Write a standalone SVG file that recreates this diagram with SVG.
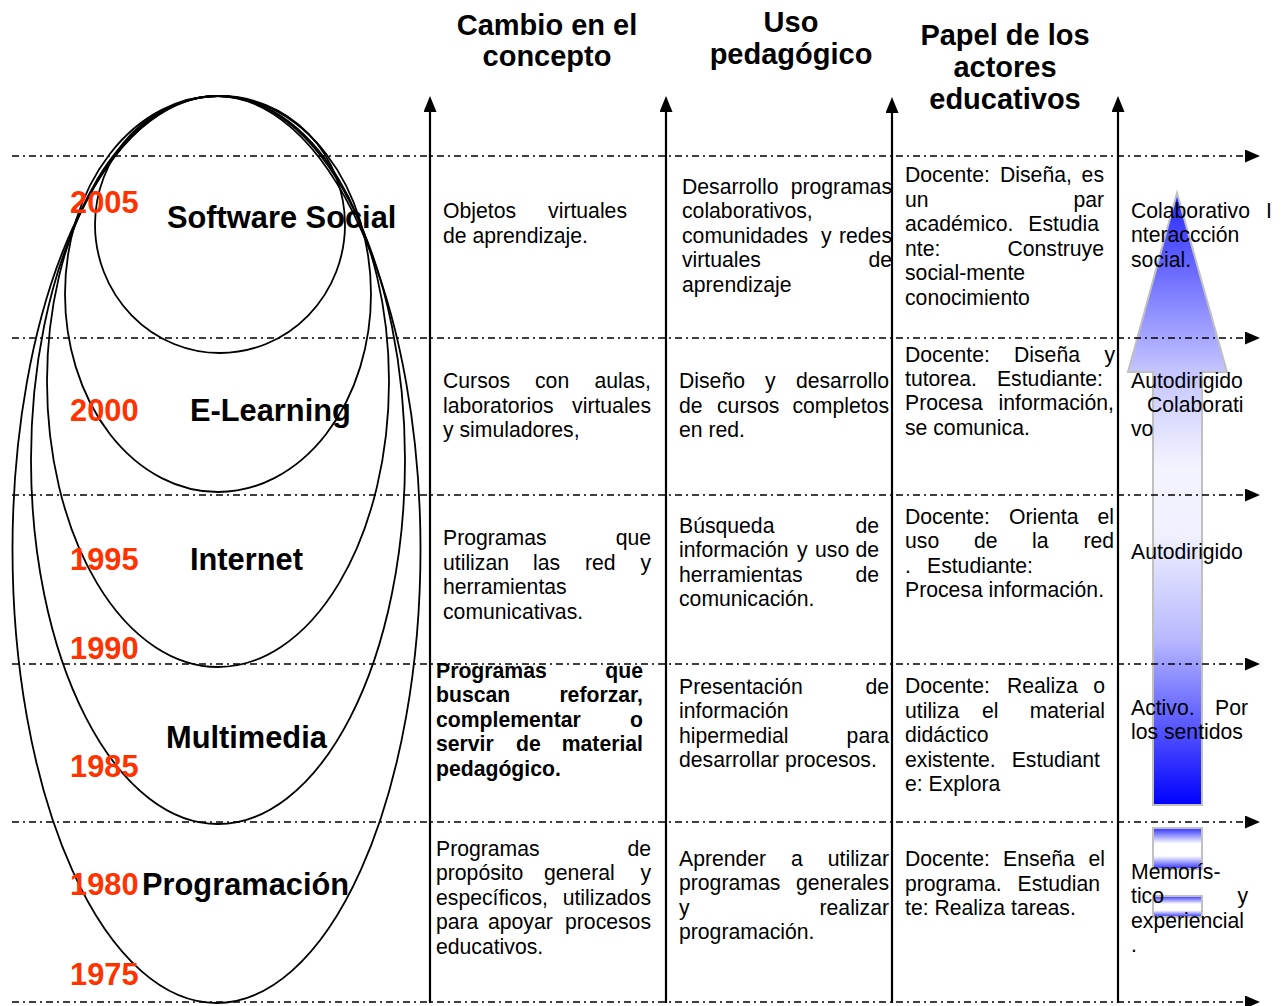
<svg xmlns="http://www.w3.org/2000/svg" width="1283" height="1006" viewBox="0 0 1283 1006">
<style>
text{font-family:"Liberation Sans",Arial,sans-serif;fill:#000}
.t{font-size:21.2px}
.tb{font-size:21.2px;font-weight:bold}
.e{text-anchor:end}
.h{font-size:29px;font-weight:bold;text-anchor:middle}
.yr{font-size:30.8px;font-weight:bold;fill:#ff3300}
.lb{font-size:30.8px;font-weight:bold}
.ell{fill:none;stroke:#000;stroke-width:1.8}
.dash{fill:none;stroke:#000;stroke-width:1.7;stroke-dasharray:7 4 2 4}
.axis{fill:none;stroke:#000;stroke-width:2.2}
</style>
<defs>
<marker id="ah" viewBox="0 0 15 13" refX="0" refY="6.5" markerWidth="15" markerHeight="13" markerUnits="userSpaceOnUse" orient="auto">
<path d="M0,0 L15,6.5 L0,13 z" fill="#000"/>
</marker>
<marker id="av" viewBox="0 0 16 13" refX="0" refY="6.5" markerWidth="16" markerHeight="13" markerUnits="userSpaceOnUse" orient="auto">
<path d="M0,0 L16,6.5 L0,13 z" fill="#000"/>
</marker>
<linearGradient id="gArrow" gradientUnits="userSpaceOnUse" x1="0" y1="193" x2="0" y2="805">
<stop offset="0" stop-color="#2424ff"/>
<stop offset="0.29" stop-color="#c4c4ff"/>
<stop offset="0.45" stop-color="#f4f4ff"/>
<stop offset="0.56" stop-color="#f0f0ff"/>
<stop offset="0.73" stop-color="#b8b8ff"/>
<stop offset="1" stop-color="#0000ff"/>
</linearGradient>
<linearGradient id="gBar" x1="0" y1="0" x2="0" y2="1">
<stop offset="0" stop-color="#3030ff"/>
<stop offset="0.38" stop-color="#ffffff"/>
<stop offset="0.68" stop-color="#ffffff"/>
<stop offset="1" stop-color="#3030ff"/>
</linearGradient>
</defs>

<g id="headers">
<text class="h" x="547" y="35">Cambio en el</text>
<text class="h" x="547" y="66">concepto</text>
<text class="h" x="791" y="32">Uso</text>
<text class="h" x="791" y="64">pedagógico</text>
<text class="h" x="1005" y="45">Papel de los</text>
<text class="h" x="1005" y="77">actores</text>
<text class="h" x="1005" y="109">educativos</text>
</g>

<g id="progress-arrow">
<polygon points="1177,193 1227,372 1202,372 1202,805 1153,805 1153,372 1128,372" fill="url(#gArrow)" stroke="#c0c0c0" stroke-width="2"/>
<rect x="1153" y="828" width="49" height="41" fill="url(#gBar)" stroke="#c0c0c0" stroke-width="2"/>
<rect x="1153" y="896" width="49" height="21" fill="url(#gBar)" stroke="#c0c0c0" stroke-width="2"/>
</g>

<g id="connectors">
<path class="dash" d="M12,156 H1245" marker-end="url(#ah)"/>
<path class="dash" d="M12,338 H1245" marker-end="url(#ah)"/>
<path class="dash" d="M12,495 H1245" marker-end="url(#ah)"/>
<path class="dash" d="M12,664 H1245" marker-end="url(#ah)"/>
<path class="dash" d="M12,822 H1245" marker-end="url(#ah)"/>
<path class="dash" d="M12,1002 H1245" marker-end="url(#ah)"/>
<path class="axis" d="M430,1003 V112" marker-end="url(#av)"/>
<path class="axis" d="M666,1003 V112" marker-end="url(#av)"/>
<path class="axis" d="M892,1003 V113" marker-end="url(#av)"/>
<path class="axis" d="M1118,1003 V112" marker-end="url(#av)"/>
</g>

<g id="ellipses">
<ellipse id="e-programacion" class="ell" cx="216.5" cy="549.5" rx="204" ry="453.5"/>
<ellipse id="e-multimedia" class="ell" cx="218" cy="460" rx="187" ry="364"/>
<ellipse id="e-internet" class="ell" cx="218" cy="381.5" rx="171" ry="285.5"/>
<ellipse id="e-elearning" class="ell" cx="218" cy="294" rx="153" ry="198"/>
<ellipse id="e-software" class="ell" cx="220" cy="224.5" rx="125" ry="128.5"/>
</g>

<g id="years">
<text class="yr" x="70" y="213">2005</text>
<text class="yr" x="70" y="421">2000</text>
<text class="yr" x="70" y="570">1995</text>
<text class="yr" x="70" y="659">1990</text>
<text class="yr" x="70" y="777">1985</text>
<text class="yr" x="70" y="895">1980</text>
<text class="yr" x="70" y="985">1975</text>
</g>

<g id="labels">
<text class="lb" x="167" y="228">Software Social</text>
<text class="lb" x="190" y="421">E-Learning</text>
<text class="lb" x="190" y="570">Internet</text>
<text class="lb" x="166" y="748">Multimedia</text>
<text class="lb" x="142" y="895">Programación</text>
</g>

<g id="row-software-social">
<g id="r1-concepto">
<text class="t" x="443" y="218">Objetos</text><text class="t e" x="627" y="218">virtuales</text>
<text class="t" x="443" y="243">de aprendizaje.</text>
</g>
<g id="r1-uso">
<text class="t" x="682" y="194">Desarrollo</text><text class="t e" x="892" y="194">programas</text>
<text class="t" x="682" y="218">colaborativos,</text>
<text class="t" x="682" y="243">comunidades</text><text class="t" x="821" y="243">y</text><text class="t e" x="892" y="243">redes</text>
<text class="t" x="682" y="267">virtuales</text><text class="t e" x="892" y="267">de</text>
<text class="t" x="682" y="292">aprendizaje</text>
</g>
<g id="r1-papel">
<text class="t" x="905" y="182">Docente:</text><text class="t" x="1000" y="182">Diseña,</text><text class="t e" x="1104" y="182">es</text>
<text class="t" x="905" y="207">un</text><text class="t e" x="1104" y="207">par</text>
<text class="t" x="905" y="231">académico.</text><text class="t e" x="1099" y="231">Estudia</text>
<text class="t" x="905" y="256">nte:</text><text class="t e" x="1104" y="256">Construye</text>
<text class="t" x="905" y="280">social-mente</text>
<text class="t" x="905" y="305">conocimiento</text>
</g>
<g id="r1-aprendizaje">
<text class="t" x="1131" y="218">Colaborativo</text><text class="t e" x="1272" y="218">I</text>
<text class="t" x="1131" y="242">nteraccción</text>
<text class="t" x="1131" y="267">social.</text>
</g>
</g>

<g id="row-e-learning">
<g id="r2-concepto">
<text class="t" x="443" y="388">Cursos</text><text class="t" x="535" y="388">con</text><text class="t e" x="651" y="388">aulas,</text>
<text class="t" x="443" y="413">laboratorios</text><text class="t e" x="651" y="413">virtuales</text>
<text class="t" x="443" y="437">y simuladores,</text>
</g>
<g id="r2-uso">
<text class="t" x="679" y="388">Diseño</text><text class="t" x="765" y="388">y</text><text class="t e" x="889" y="388">desarrollo</text>
<text class="t" x="679" y="413">de</text><text class="t" x="717" y="413">cursos</text><text class="t e" x="889" y="413">completos</text>
<text class="t" x="679" y="437">en red.</text>
</g>
<g id="r2-papel">
<text class="t" x="905" y="362">Docente:</text><text class="t" x="1014" y="362">Diseña</text><text class="t e" x="1115" y="362">y</text>
<text class="t" x="905" y="386">tutorea.</text><text class="t e" x="1103" y="386">Estudiante:</text>
<text class="t" x="905" y="410">Procesa</text><text class="t e" x="1114" y="410">información,</text>
<text class="t" x="905" y="435">se comunica.</text>
</g>
<g id="r2-aprendizaje">
<text class="t" x="1131" y="388">Autodirigido</text>
<text class="t" x="1147" y="412">Colaborati</text>
<text class="t" x="1131" y="436">vo</text>
</g>
</g>

<g id="row-internet">
<g id="r3-concepto">
<text class="t" x="443" y="545">Programas</text><text class="t e" x="651" y="545">que</text>
<text class="t" x="443" y="570">utilizan</text><text class="t" x="533" y="570">las</text><text class="t" x="585" y="570">red</text><text class="t e" x="651" y="570">y</text>
<text class="t" x="443" y="594">herramientas</text>
<text class="t" x="443" y="619">comunicativas.</text>
</g>
<g id="r3-uso">
<text class="t" x="679" y="533">Búsqueda</text><text class="t e" x="879" y="533">de</text>
<text class="t" x="679" y="557">información</text><text class="t" x="797" y="557">y</text><text class="t" x="815" y="557">uso</text><text class="t e" x="879" y="557">de</text>
<text class="t" x="679" y="582">herramientas</text><text class="t e" x="879" y="582">de</text>
<text class="t" x="679" y="606">comunicación.</text>
</g>
<g id="r3-papel">
<text class="t" x="905" y="524">Docente:</text><text class="t" x="1009" y="524">Orienta</text><text class="t e" x="1114" y="524">el</text>
<text class="t" x="905" y="548">uso</text><text class="t" x="974" y="548">de</text><text class="t" x="1032" y="548">la</text><text class="t e" x="1114" y="548">red</text>
<text class="t" x="905" y="573">.</text><text class="t" x="927" y="573">Estudiante:</text>
<text class="t" x="905" y="597">Procesa información.</text>
</g>
<g id="r3-aprendizaje">
<text class="t" x="1131" y="559">Autodirigido</text>
</g>
</g>

<g id="row-multimedia">
<g id="r4-concepto">
<text class="tb" x="436" y="678">Programas</text><text class="tb e" x="643" y="678">que</text>
<text class="tb" x="436" y="702">buscan</text><text class="tb e" x="643" y="702">reforzar,</text>
<text class="tb" x="436" y="727">complementar</text><text class="tb e" x="643" y="727">o</text>
<text class="tb" x="436" y="751">servir</text><text class="tb" x="516" y="751">de</text><text class="tb e" x="643" y="751">material</text>
<text class="tb" x="436" y="776">pedagógico.</text>
</g>
<g id="r4-uso">
<text class="t" x="679" y="694">Presentación</text><text class="t e" x="889" y="694">de</text>
<text class="t" x="679" y="718">información</text>
<text class="t" x="679" y="743">hipermedial</text><text class="t e" x="889" y="743">para</text>
<text class="t" x="679" y="767">desarrollar procesos.</text>
</g>
<g id="r4-papel">
<text class="t" x="905" y="693">Docente:</text><text class="t" x="1007" y="693">Realiza</text><text class="t e" x="1105" y="693">o</text>
<text class="t" x="905" y="718">utiliza</text><text class="t" x="982" y="718">el</text><text class="t e" x="1105" y="718">material</text>
<text class="t" x="905" y="742">didáctico</text>
<text class="t" x="905" y="767">existente.</text><text class="t e" x="1100" y="767">Estudiant</text>
<text class="t" x="905" y="791">e: Explora</text>
</g>
<g id="r4-aprendizaje">
<text class="t" x="1131" y="715">Activo.</text><text class="t e" x="1248" y="715">Por</text>
<text class="t" x="1131" y="739">los sentidos</text>
</g>
</g>

<g id="row-programacion">
<g id="r5-concepto">
<text class="t" x="436" y="856">Programas</text><text class="t e" x="651" y="856">de</text>
<text class="t" x="436" y="880">propósito</text><text class="t" x="544" y="880">general</text><text class="t e" x="651" y="880">y</text>
<text class="t" x="436" y="905">específicos,</text><text class="t e" x="651" y="905">utilizados</text>
<text class="t" x="436" y="929">para</text><text class="t" x="488" y="929">apoyar</text><text class="t e" x="651" y="929">procesos</text>
<text class="t" x="436" y="954">educativos.</text>
</g>
<g id="r5-uso">
<text class="t" x="679" y="866">Aprender</text><text class="t" x="791" y="866">a</text><text class="t e" x="889" y="866">utilizar</text>
<text class="t" x="679" y="890">programas</text><text class="t e" x="889" y="890">generales</text>
<text class="t" x="679" y="915">y</text><text class="t e" x="889" y="915">realizar</text>
<text class="t" x="679" y="939">programación.</text>
</g>
<g id="r5-papel">
<text class="t" x="905" y="866">Docente:</text><text class="t" x="1003" y="866">Enseña</text><text class="t e" x="1105" y="866">el</text>
<text class="t" x="905" y="891">programa.</text><text class="t e" x="1100" y="891">Estudian</text>
<text class="t" x="905" y="915">te: Realiza tareas.</text>
</g>
<g id="r5-aprendizaje">
<text class="t" x="1131" y="879">Memorís-</text>
<text class="t" x="1131" y="903">tico</text><text class="t e" x="1248" y="903">y</text>
<text class="t" x="1131" y="928">experiencial</text>
<text class="t" x="1131" y="952">.</text>
</g>
</g>
</svg>
